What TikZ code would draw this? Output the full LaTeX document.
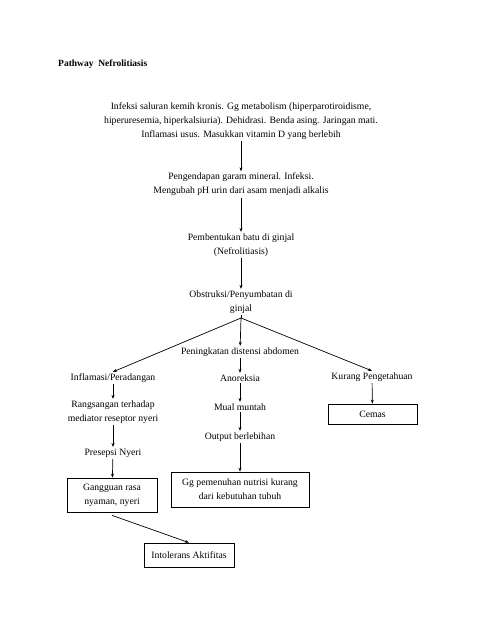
\documentclass[tikz,border=0pt]{standalone}
\usepackage{fontspec}
\setmainfont{Liberation Serif}
\usetikzlibrary{arrows.meta}
\begin{document}
\begin{tikzpicture}[x=1pt,y=-1pt,
  txt/.style={align=center, font=\fontsize{9.7}{14}\selectfont, inner sep=1.5pt},
  bx/.style={txt, draw, line width=0.7pt},
  arr/.style={-{Stealth[length=4pt,width=3pt]}, line width=0.7pt}]
\useasboundingbox (0,0) rectangle (495,640);
\node[anchor=west, font=\fontsize{9.5}{14}\selectfont\bfseries, inner sep=0pt] (title) at (58,64) {Pathway\ \ Nefrolitiasis};
\node[txt] (n1) at (241,121) {Infeksi saluran kemih kronis. Gg metabolism (hiperparotiroidisme,\\hiperuresemia, hiperkalsiuria). Dehidrasi. Benda asing. Jaringan mati.\\Inflamasi usus. Masukkan vitamin D yang berlebih};
\node[txt] (n2) at (241,184.5) {Pengendapan garam mineral. Infeksi.\\Mengubah pH urin dari asam menjadi alkalis};
\node[txt] (n3) at (241,245) {Pembentukan batu di ginjal\\(Nefrolitiasis)};
\node[txt] (n4) at (241,302) {Obstruksi/Penyumbatan di\\ginjal};
\coordinate (br) at (241,318);
\node[txt] (c1) at (240,352) {Peningkatan distensi abdomen};
\node[txt] (l1) at (113,378) {Inflamasi/Peradangan};
\node[txt] (c2) at (240,378) {Anoreksia};
\node[txt] (r1) at (372,377) {Kurang Pengetahuan};
\node[txt] (l2) at (113,412) {Rangsangan terhadap\\mediator reseptor nyeri};
\node[txt] (c3) at (240,407) {Mual muntah};
\node[bx, minimum width=89pt, minimum height=20pt] (r2) at (372.5,414) {Cemas};
\node[txt] (c4) at (240,437) {Output berlebihan};
\node[txt] (l3) at (113,453) {Presepsi Nyeri};
\node[bx, minimum width=90pt, minimum height=34pt] (l4) at (112,495) {Gangguan rasa\\nyaman, nyeri};
\node[bx, minimum width=138pt, minimum height=35pt] (c5) at (240,489.5) {Gg pemenuhan nutrisi kurang\\dari kebutuhan tubuh};
\node[bx, minimum width=90pt, minimum height=24pt] (b1) at (189,555) {Intolerans Aktifitas};
\draw[arr] (n1) -- (n2);
\draw[arr] (n2) -- (n3);
\draw[arr] (n3) -- (n4);
\draw[line width=0.7pt] (n4.south) -- (br);
\draw[arr] (br) -- (l1.north);
\draw[arr] (br) -- (c1);
\draw[arr] (br) -- (r1.north);
\draw[arr] (c1) -- (c2);
\draw[arr] (l1) -- (l2);
\draw[arr] (c2) -- (c3);
\draw[arr] (r1) -- (r2);
\draw[arr] (c3) -- (c4);
\draw[arr] (l2) -- (l3);
\draw[arr] (c4) -- (c5);
\draw[arr] (l3) -- (l4);
\draw[arr] (l4.south) ++(0,3) -- (b1.north);
\end{tikzpicture}
\end{document}
